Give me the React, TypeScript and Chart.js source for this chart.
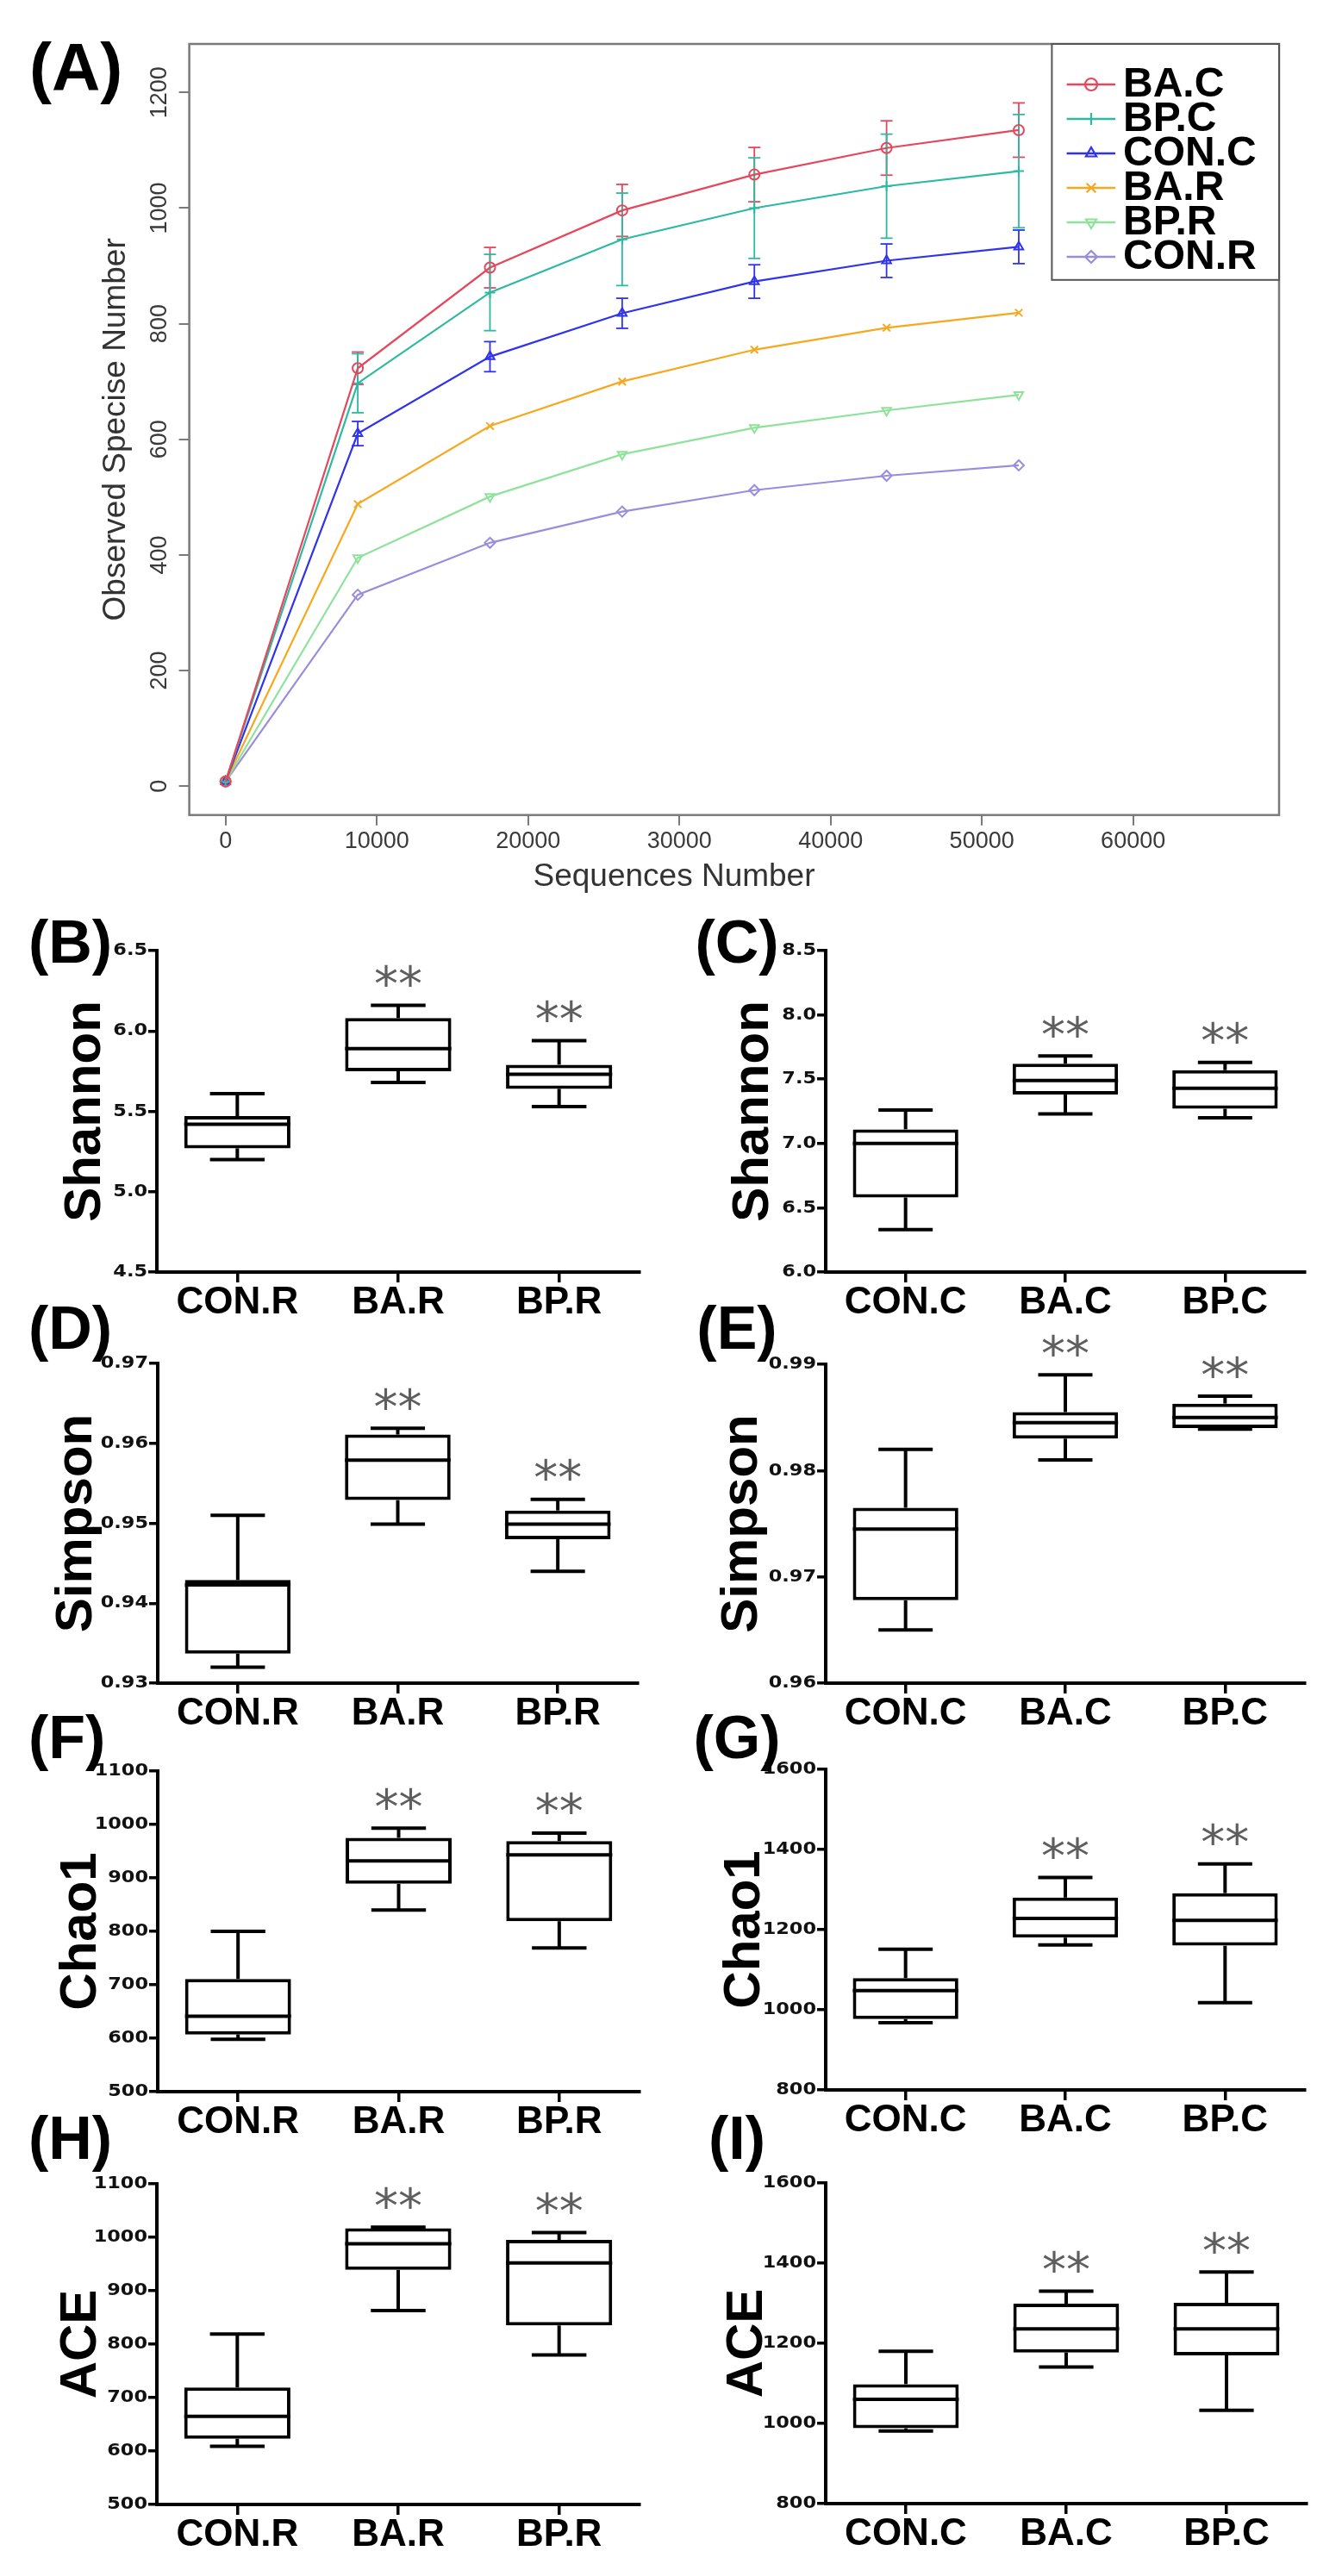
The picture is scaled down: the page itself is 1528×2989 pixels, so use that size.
import React, { useEffect, useRef } from "react";
import { Chart, registerables } from "chart.js";

Chart.register(...registerables);
const SANS = '"Liberation Sans", Arial, Helvetica, sans-serif';
Chart.defaults.font.family = SANS;

// ---------------- Panel A: rarefaction curves ----------------
const SEQUENCES = [0, 8740, 17480, 26220, 34960, 43700, 52440];
const SERIES_NAMES = ["BA.C", "BP.C", "CON.C", "BA.R", "BP.R", "CON.R"];
const OBS_BA_C = [8, 723, 897, 996, 1058, 1104, 1135];
const OBS_BP_C = [8, 697, 854, 946, 1000, 1038, 1064];
const OBS_CON_C = [8, 610, 743, 818, 873, 909, 933];
const OBS_BA_R = [8, 488, 623, 700, 755, 793, 819];
const OBS_BP_R = [8, 395, 501, 574, 620, 650, 677];
const OBS_CON_R = [8, 331, 421, 475, 512, 537, 555];
const ERR_BA_C = [0, 28, 35, 45, 47, 47, 47];
const ERR_BP_C = [0, 51, 66, 80, 87, 90, 98];
const ERR_CON_C = [0, 21, 26, 26, 29, 29, 29];
const A_X_TICKS = [0, 10000, 20000, 30000, 40000, 50000, 60000];
const A_Y_TICKS = [0, 200, 400, 600, 800, 1000, 1200];

// ---------------- Box plots: [min, q1, median, q3, max] ----------------
const CATS_R = ["CON.R", "BA.R", "BP.R"];
const CATS_C = ["CON.C", "BA.C", "BP.C"];
const SIG = ["", "**", "**"];
const SHANNON_R = [
  [5.2, 5.27, 5.42, 5.47, 5.61],
  [5.68, 5.75, 5.89, 6.08, 6.16],
  [5.53, 5.64, 5.73, 5.79, 5.94],
];
const SHANNON_C = [
  [6.33, 6.58, 7.0, 7.11, 7.26],
  [7.23, 7.38, 7.49, 7.62, 7.68],
  [7.2, 7.27, 7.43, 7.57, 7.63],
];
const SIMPSON_R = [
  [0.932, 0.9337, 0.9423, 0.9429, 0.951],
  [0.9499, 0.9529, 0.9579, 0.9611, 0.9619],
  [0.944, 0.948, 0.9499, 0.9516, 0.953],
];
const SIMPSON_C = [
  [0.965, 0.9678, 0.9745, 0.9765, 0.982],
  [0.981, 0.983, 0.9845, 0.9855, 0.989],
  [0.9839, 0.984, 0.985, 0.9863, 0.987],
];
const CHAO1_R = [
  [598, 607, 641, 711, 800],
  [840, 889, 932, 975, 993],
  [769, 819, 943, 969, 984],
];
const CHAO1_C = [
  [968, 977, 1048, 1079, 1151],
  [1162, 1180, 1228, 1280, 1330],
  [1018, 1160, 1223, 1291, 1364],
];
const ACE_R = [
  [609, 623, 665, 719, 819],
  [863, 939, 988, 1017, 1019],
  [780, 835, 952, 995, 1009],
];
const ACE_C = [
  [981, 988, 1060, 1098, 1180],
  [1141, 1177, 1236, 1299, 1330],
  [1033, 1170, 1236, 1301, 1378],
];
const SHANNON_R_TICKS = [4.5, 5.0, 5.5, 6.0, 6.5];
const SHANNON_C_TICKS = [6.0, 6.5, 7.0, 7.5, 8.0, 8.5];
const SIMPSON_R_TICKS = [0.93, 0.94, 0.95, 0.96, 0.97];
const SIMPSON_C_TICKS = [0.96, 0.97, 0.98, 0.99];
const CHAO1_R_TICKS = [500, 600, 700, 800, 900, 1000, 1100];
const CHAO1_C_TICKS = [800, 1000, 1200, 1400, 1600];
const ACE_R_TICKS = [500, 600, 700, 800, 900, 1000, 1100];
const ACE_C_TICKS = [800, 1000, 1200, 1400, 1600];

// ---------------- styles / layout ----------------
const A_STYLE = [
  { color: "#E5475C", point: "circle", rot: 0 },
  { color: "#2DB9A2", point: "cross", rot: 0 },
  { color: "#2F33EE", point: "triangle", rot: 0 },
  { color: "#F8A81E", point: "crossRot", rot: 0 },
  { color: "#8EE29A", point: "triangle", rot: 180 },
  { color: "#9B8DDD", point: "rectRot", rot: 0 },
];

function seg(ctx: CanvasRenderingContext2D, x1: number, y1: number, x2: number, y2: number) {
  ctx.beginPath();
  ctx.moveTo(x1, y1);
  ctx.lineTo(x2, y2);
  ctx.stroke();
}

function rarefactionConfig(): any {
  const values = [OBS_BA_C, OBS_BP_C, OBS_CON_C, OBS_BA_R, OBS_BP_R, OBS_CON_R];
  const errors: (number[] | null)[] = [ERR_BA_C, ERR_BP_C, ERR_CON_C, null, null, null];
  const datasets = SERIES_NAMES.map((name, k) => ({
    label: name,
    data: SEQUENCES.map((x, i) => ({ x, y: values[k][i] })),
    showLine: true,
    borderColor: A_STYLE[k].color,
    backgroundColor: "rgba(255,255,255,0)",
    pointBackgroundColor: "rgba(255,255,255,0)",
    pointBorderColor: A_STYLE[k].color,
    pointStyle: A_STYLE[k].point,
    pointRotation: A_STYLE[k].rot,
    pointRadius: 6,
    pointBorderWidth: 2,
    borderWidth: 2.2,
    tension: 0,
  }));
  const W = 1528, H = 1045;
  const area = { left: 219.6, right: 1484, top: 51, bottom: 945.7 };
  const decor = {
    id: "aDecor",
    beforeDatasetsDraw(chart: any) {
      const ctx: CanvasRenderingContext2D = chart.ctx;
      const xs = chart.scales.x, ys = chart.scales.y;
      ctx.save();
      ctx.lineWidth = 1.8;
      errors.forEach((err, k) => {
        if (!err) return;
        ctx.strokeStyle = A_STYLE[k].color;
        SEQUENCES.forEach((x, i) => {
          const e = err[i];
          if (!e) return;
          const px = xs.getPixelForValue(x);
          const y1 = ys.getPixelForValue(values[k][i] - e);
          const y2 = ys.getPixelForValue(values[k][i] + e);
          seg(ctx, px, y1, px, y2);
          seg(ctx, px - 7, y1, px + 7, y1);
          seg(ctx, px - 7, y2, px + 7, y2);
        });
      });
      ctx.restore();
    },
    afterDraw(chart: any) {
      const ctx: CanvasRenderingContext2D = chart.ctx;
      const ca = chart.chartArea;
      const xs = chart.scales.x, ys = chart.scales.y;
      ctx.save();
      ctx.strokeStyle = "#7a7a7a";
      ctx.lineWidth = 2.5;
      ctx.strokeRect(ca.left, ca.top, ca.right - ca.left, ca.bottom - ca.top);
      // tick labels
      ctx.fillStyle = "#3a3a3a";
      ctx.font = `27px ${SANS}`;
      ctx.textAlign = "center";
      ctx.textBaseline = "middle";
      ys.ticks.forEach((t: any) => {
        const py = ys.getPixelForValue(t.value);
        ctx.save();
        ctx.translate(185.5, py);
        ctx.rotate(-Math.PI / 2);
        ctx.fillText(String(t.value), 0, 0);
        ctx.restore();
      });
      xs.ticks.forEach((t: any) => {
        ctx.fillText(String(t.value), xs.getPixelForValue(t.value), 977);
      });
      // axis titles
      ctx.font = `37px ${SANS}`;
      ctx.fillStyle = "#333";
      ctx.fillText("Sequences Number", 782, 1018);
      ctx.save();
      ctx.translate(135, (ca.top + ca.bottom) / 2);
      ctx.rotate(-Math.PI / 2);
      ctx.fillText("Observed Specise Number", 0, 0);
      ctx.restore();
      // legend
      const lx = 1220.4, ly = ca.top, lw = ca.right - 1220.4, lh = 324.8 - ca.top;
      ctx.fillStyle = "#fff";
      ctx.fillRect(lx, ly, lw, lh);
      ctx.strokeStyle = "#555";
      ctx.lineWidth = 2;
      ctx.strokeRect(lx, ly, lw, lh);
      SERIES_NAMES.forEach((name, k) => {
        const y = 98 + 40 * k;
        ctx.strokeStyle = A_STYLE[k].color;
        ctx.lineWidth = 2.5;
        seg(ctx, 1237.6, y, 1294, y);
        Chart.helpers
          ? (Chart as any).helpers
          : null;
        drawMarker(ctx, A_STYLE[k].point, A_STYLE[k].rot, 1266, y, 7, A_STYLE[k].color);
        ctx.fillStyle = "#000";
        ctx.font = `bold 48px ${SANS}`;
        ctx.textAlign = "left";
        ctx.textBaseline = "middle";
        ctx.fillText(name, 1303, y + 1);
      });
      // panel letter
      ctx.fillStyle = "#000";
      ctx.font = `bold 78px ${SANS}`;
      ctx.textAlign = "left";
      ctx.textBaseline = "alphabetic";
      ctx.fillText("(A)", 34, 85 + 0.26 * 78);
      ctx.restore();
    },
  };
  return {
    width: W,
    height: H,
    left: 0,
    top: 0,
    config: {
      type: "scatter",
      data: { datasets },
      options: {
        responsive: false,
        animation: false,
        layout: { padding: { left: area.left - 12, right: W - area.right, top: area.top, bottom: H - area.bottom - 12 } },
        plugins: { legend: { display: false }, tooltip: { enabled: false } },
        scales: {
          x: {
            type: "linear",
            min: -2400,
            max: 69650,
            afterBuildTicks: (s: any) => {
              s.ticks = A_X_TICKS.map((v) => ({ value: v }));
            },
            afterFit: (s: any) => {
              s.height = 12;
            },
            grid: { display: true, drawOnChartArea: false, drawTicks: true, tickLength: 12, color: "#7a7a7a", lineWidth: 2 },
            border: { display: false },
            ticks: { display: false },
          },
          y: {
            type: "linear",
            min: -50,
            max: 1284,
            afterBuildTicks: (s: any) => {
              s.ticks = A_Y_TICKS.map((v) => ({ value: v }));
            },
            afterFit: (s: any) => {
              s.width = 12;
            },
            grid: { display: true, drawOnChartArea: false, drawTicks: true, tickLength: 12, color: "#7a7a7a", lineWidth: 2 },
            border: { display: false },
            ticks: { display: false },
          },
        },
      },
      plugins: [decor],
    },
  };
}

function drawMarker(ctx: CanvasRenderingContext2D, style: string, rot: number, x: number, y: number, r: number, color: string) {
  ctx.save();
  ctx.strokeStyle = color;
  ctx.lineWidth = 2.2;
  ctx.translate(x, y);
  ctx.rotate((rot * Math.PI) / 180);
  ctx.beginPath();
  if (style === "circle") {
    ctx.arc(0, 0, r, 0, Math.PI * 2);
  } else if (style === "cross") {
    ctx.moveTo(-r, 0); ctx.lineTo(r, 0); ctx.moveTo(0, -r); ctx.lineTo(0, r);
  } else if (style === "crossRot") {
    const d = r * 0.75;
    ctx.moveTo(-d, -d); ctx.lineTo(d, d); ctx.moveTo(d, -d); ctx.lineTo(-d, d);
  } else if (style === "triangle") {
    ctx.moveTo(0, -r); ctx.lineTo(r * 0.87, r * 0.5); ctx.lineTo(-r * 0.87, r * 0.5); ctx.closePath();
  } else if (style === "rectRot") {
    ctx.moveTo(0, -r); ctx.lineTo(r, 0); ctx.lineTo(0, r); ctx.lineTo(-r, 0); ctx.closePath();
  }
  ctx.stroke();
  ctx.restore();
}

type BoxPanel = {
  letter: string;
  title: string;
  cats: string[];
  stats: number[][];
  ticks: number[];
  dec: number;
  col: number;
  axisL: number;
  axisR: number;
  axisT: number;
  axisB: number;
  titleX: number;
  letterY: number;
};

const PANELS: BoxPanel[] = [
  { letter: "(B)", title: "Shannon", cats: CATS_R, stats: SHANNON_R, ticks: SHANNON_R_TICKS, dec: 1, col: 0, axisL: 182, axisR: 742, axisT: 1103, axisB: 1476, titleX: 116, letterY: 1099 },
  { letter: "(C)", title: "Shannon", cats: CATS_C, stats: SHANNON_C, ticks: SHANNON_C_TICKS, dec: 1, col: 1, axisL: 958, axisR: 1514, axisT: 1103, axisB: 1476, titleX: 891, letterY: 1099 },
  { letter: "(D)", title: "Simpson", cats: CATS_R, stats: SIMPSON_R, ticks: SIMPSON_R_TICKS, dec: 2, col: 0, axisL: 183, axisR: 740, axisT: 1582, axisB: 1953, titleX: 106, letterY: 1547 },
  { letter: "(E)", title: "Simpson", cats: CATS_C, stats: SIMPSON_C, ticks: SIMPSON_C_TICKS, dec: 2, col: 1, axisL: 958, axisR: 1514, axisT: 1583, axisB: 1953, titleX: 878, letterY: 1547 },
  { letter: "(F)", title: "Chao1", cats: CATS_R, stats: CHAO1_R, ticks: CHAO1_R_TICKS, dec: 0, col: 0, axisL: 183, axisR: 742, axisT: 2055, axisB: 2427, titleX: 111, letterY: 2022 },
  { letter: "(G)", title: "Chao1", cats: CATS_C, stats: CHAO1_C, ticks: CHAO1_C_TICKS, dec: 0, col: 1, axisL: 958, axisR: 1514, axisT: 2053, axisB: 2425, titleX: 881, letterY: 2022 },
  { letter: "(H)", title: "ACE", cats: CATS_R, stats: ACE_R, ticks: ACE_R_TICKS, dec: 0, col: 0, axisL: 182, axisR: 742, axisT: 2534, axisB: 2906, titleX: 111, letterY: 2487 },
  { letter: "(I)", title: "ACE", cats: CATS_C, stats: ACE_C, ticks: ACE_C_TICKS, dec: 0, col: 1, axisL: 958, axisR: 1516, axisT: 2533, axisB: 2905, titleX: 884, letterY: 2487 },
];

function boxConfig(p: BoxPanel): any {
  const colLeft = p.col === 0 ? 0 : 760;
  const colW = p.col === 0 ? 760 : 768;
  const top = p.axisT - 95;
  const height = p.axisB - p.axisT + 95 + 75;
  const decor = {
    id: "boxDecor",
    afterDatasetsDraw(chart: any) {
      const ctx: CanvasRenderingContext2D = chart.ctx;
      const xs = chart.scales.x, ys = chart.scales.y;
      const meta = chart.getDatasetMeta(0);
      const band = Math.abs(xs.getPixelForValue(1) - xs.getPixelForValue(0));
      const cap = band * 0.17;
      ctx.save();
      ctx.strokeStyle = "#000";
      ctx.lineWidth = 4;
      ctx.lineCap = "butt";
      p.stats.forEach((s, i) => {
        const cx = xs.getPixelForValue(i);
        const half = meta.data[i].width / 2;
        const [mn, q1, md, q3, mx] = s.map((v) => ys.getPixelForValue(v));
        seg(ctx, cx, q3, cx, mx);
        seg(ctx, cx, q1, cx, mn);
        seg(ctx, cx - cap, mx, cx + cap, mx);
        seg(ctx, cx - cap, mn, cx + cap, mn);
        seg(ctx, cx - half, md, cx + half, md);
        if (SIG[i]) {
          ctx.fillStyle = "#5e5e5e";
          ctx.font = `56px "DejaVu Sans", sans-serif`;
          ctx.textAlign = "center";
          ctx.textBaseline = "middle";
          ctx.fillText(SIG[i], cx, mx - 31 + 11);
        }
      });
      ctx.restore();
    },
    afterDraw(chart: any) {
      const ctx: CanvasRenderingContext2D = chart.ctx;
      const xs = chart.scales.x, ys = chart.scales.y;
      const ca = chart.chartArea;
      ctx.save();
      // y tick labels
      ctx.fillStyle = "#111";
      ctx.font = `bold 20px "DejaVu Sans", sans-serif`;
      ctx.textAlign = "right";
      ctx.textBaseline = "middle";
      ys.ticks.forEach((t: any) => {
        const py = ys.getPixelForValue(t.value);
        ctx.save();
        ctx.translate(ca.left - 11, py);
        ctx.scale(1.12, 1);
        ctx.fillText(t.value.toFixed(p.dec), 0, 0);
        ctx.restore();
      });
      // x category labels
      ctx.fillStyle = "#000";
      ctx.font = `bold 44px ${SANS}`;
      ctx.textAlign = "center";
      p.cats.forEach((c, i) => {
        ctx.fillText(c, xs.getPixelForValue(i), ca.bottom + 36);
      });
      // y title
      ctx.font = `bold 60px ${SANS}`;
      ctx.textBaseline = "alphabetic";
      ctx.save();
      ctx.translate(p.titleX - colLeft, (ca.top + ca.bottom) / 2);
      ctx.rotate(-Math.PI / 2);
      ctx.fillText(p.title, 0, 0);
      ctx.restore();
      // panel letter
      ctx.font = `bold 70px ${SANS}`;
      if (p.col === 0) {
        ctx.textAlign = "left";
        ctx.fillText(p.letter, 33, p.letterY - top + 0.26 * 70);
      } else {
        ctx.textAlign = "center";
        ctx.fillText(p.letter, 855 - colLeft, p.letterY - top + 0.26 * 70);
      }
      ctx.restore();
    },
  };
  return {
    width: colW,
    height,
    left: colLeft,
    top,
    config: {
      type: "bar",
      data: {
        labels: p.cats,
        datasets: [
          {
            data: p.stats.map((s) => [s[1], s[3]]),
            backgroundColor: "#ffffff",
            borderColor: "#000000",
            borderWidth: 4,
            borderSkipped: false,
            barPercentage: 0.66,
            categoryPercentage: 1,
          },
        ],
      },
      options: {
        responsive: false,
        animation: false,
        layout: {
          padding: {
            left: p.axisL - colLeft - 10,
            right: colLeft + colW - p.axisR,
            top: 95,
            bottom: height - (p.axisB - top) - 12,
          },
        },
        plugins: { legend: { display: false }, tooltip: { enabled: false } },
        scales: {
          x: {
            type: "category",
            offset: true,
            afterFit: (s: any) => {
              s.height = 12;
            },
            grid: { display: true, offset: false, drawOnChartArea: false, drawTicks: true, tickLength: 12, color: "#000", lineWidth: 3.5 },
            border: { display: true, color: "#000", width: 4 },
            ticks: { display: false },
          },
          y: {
            type: "linear",
            min: p.ticks[0],
            max: p.ticks[p.ticks.length - 1],
            afterBuildTicks: (s: any) => {
              s.ticks = p.ticks.map((v) => ({ value: v }));
            },
            afterFit: (s: any) => {
              s.width = 10;
            },
            grid: { display: true, drawOnChartArea: false, drawTicks: true, tickLength: 10, color: "#000", lineWidth: 3.5 },
            border: { display: true, color: "#000", width: 4 },
            ticks: { display: false },
          },
        },
      },
      plugins: [decor],
    },
  };
}

function ChartCanvas({ spec }: { spec: any }) {
  const ref = useRef<HTMLCanvasElement>(null);
  useEffect(() => {
    if (!ref.current) return;
    const chart = new Chart(ref.current, spec.config);
    return () => chart.destroy();
  }, []);
  return (
    <canvas
      ref={ref}
      width={spec.width}
      height={spec.height}
      style={{ position: "absolute", left: spec.left, top: spec.top, width: spec.width, height: spec.height }}
    />
  );
}

export default function App() {
  const specs = [rarefactionConfig(), ...PANELS.map(boxConfig)];
  return (
    <div style={{ position: "absolute", left: 0, top: 0, width: 1528, height: 2989, background: "#fff", overflow: "hidden" }}>
      {specs.map((s, i) => (
        <ChartCanvas key={i} spec={s} />
      ))}
    </div>
  );
}
